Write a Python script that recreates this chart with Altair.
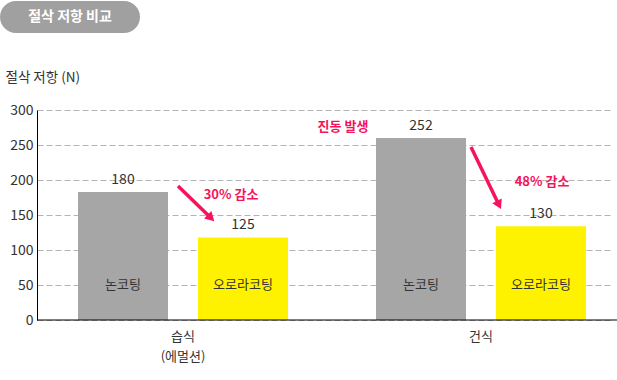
import altair as alt
import pandas as pd

# ---- data ----
groups = ["습식|(에멀션)", "건식"]
coatings = ["논코팅", "오로라코팅"]
bar_group = ["습식|(에멀션)", "습식|(에멀션)", "건식", "건식"]
bar_coating = ["논코팅", "오로라코팅", "논코팅", "오로라코팅"]
bar_values = [183, 118, 260, 134]          # heights as drawn
label_values = ["180", "125", "252", "130"]  # printed labels
y_ticks = [0, 50, 100, 150, 200, 250, 300]

df = pd.DataFrame({
    "group": bar_group,
    "coating": bar_coating,
    "value": bar_values,
    "label": label_values,
})

FONT = "Noto Sans CJK KR"
PINK = "#f5145c"
GRAY = "#a6a6a6"
YELLOW = "#fff200"
TXT = "#333333"

one = pd.DataFrame({"a": [0]})

x_scale = alt.Scale(domain=groups, paddingInner=0.2953, paddingOuter=0.1124, align=0.612)
xo_scale = alt.Scale(domain=coatings, paddingInner=0.25, paddingOuter=0)
y_scale = alt.Scale(domain=[0, 300])

y_axis = alt.Axis(values=y_ticks, labelOverlap=False,
                  title="절삭 저항 (N)", titleAngle=0, titleAlign="left",
                  titleBaseline="middle", titleX=-32, titleY=-33,
                  titleFont=FONT, titleFontSize=13.5, titleFontWeight="normal",
                  titleColor=TXT,
                  ticks=False, labelPadding=4, labelFont=FONT,
                  labelFontSize=14, labelColor=TXT,
                  domainColor="#000000", domainWidth=1,
                  grid=True, gridDash=[6, 3], gridColor="#b3b3b3",
                  gridWidth=1)

base = alt.Chart(df).encode(
    x=alt.X("group:N", scale=x_scale, sort=groups,
            axis=alt.Axis(title=None, labelExpr="split(datum.label, '|')",
                          labelAngle=0, ticks=False, domain=False,
                          labelFontSize=13, labelColor=TXT, labelFont=FONT,
                          labelPadding=10, labelLineHeight=20)),
    xOffset=alt.XOffset("coating:N", scale=xo_scale, sort=coatings),
)

bars = base.mark_bar().encode(
    y=alt.Y("value:Q", scale=y_scale, axis=y_axis),
    color=alt.Color("coating:N", scale=alt.Scale(domain=coatings, range=[GRAY, YELLOW]),
                    legend=None),
)

values_txt = base.mark_text(font=FONT, fontSize=14, color=TXT, baseline="middle", dy=-12).encode(
    y=alt.Y("value:Q", scale=y_scale, axis=y_axis),
    text="label:N",
)

inside_txt = base.transform_calculate(pos="50").mark_text(
    font=FONT, fontSize=13, color=TXT, baseline="middle").encode(
    y=alt.Y("pos:Q", scale=y_scale, axis=y_axis),
    text="coating:N",
)

# bottom axis line
baseline_rule = alt.Chart(one).mark_rule(color="#000000", strokeWidth=1.2).encode(
    x=alt.value(0), x2=alt.value(580), y=alt.value(210)
)

# title badge
badge = alt.Chart(one).mark_rect(color="#a0a0a0", cornerRadius=16).encode(
    x=alt.value(-37), x2=alt.value(103), y=alt.value(-109), y2=alt.value(-77)
)
badge_txt = alt.Chart(one).mark_text(font=FONT, fontSize=14, fontWeight="bold",
                                     color="white", baseline="middle").encode(
    x=alt.value(33), y=alt.value(-93), text=alt.value("절삭 저항 비교")
)

# annotations
def arrow(x0, y0, xc, yc, ang):
    line = alt.Chart(one).mark_rule(color=PINK, strokeWidth=3.5).encode(
        x=alt.value(x0), y=alt.value(y0), x2=alt.value(xc), y2=alt.value(yc))
    head = alt.Chart(one).mark_point(shape="triangle-up", filled=True, color=PINK,
                                     size=110, opacity=1, angle=ang).encode(
        x=alt.value(xc), y=alt.value(yc))
    return line + head

def note(x, y, t):
    return alt.Chart(one).mark_text(font=FONT, fontSize=13, fontWeight="bold",
                                    color=PINK, baseline="middle").encode(
        x=alt.value(x), y=alt.value(y), text=alt.value(t))

ann = (arrow(141, 76, 174, 108, 134) + arrow(434, 37, 462, 95, 154)
       + note(194, 85, "30% 감소") + note(505, 72, "48% 감소") + note(306, 17, "진동 발생"))

chart = alt.layer(bars, values_txt, inside_txt, baseline_rule, badge, badge_txt, ann).properties(
    width=575, height=210,
    autosize=alt.AutoSizeParams(type="none"),
    padding={"left": 37, "top": 110, "right": 5, "bottom": 60},
).configure_view(stroke=None).configure_axis(labelFont=FONT)

chart.save("out.html", embed_options={"renderer": "svg", "actions": False})
